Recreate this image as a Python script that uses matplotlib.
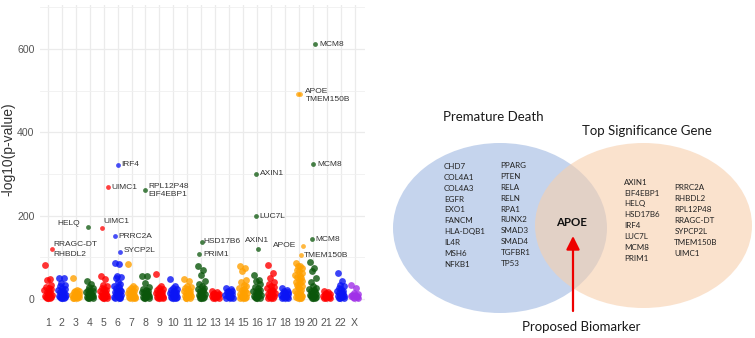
import matplotlib
matplotlib.use("Agg")
import matplotlib.pyplot as plt
from matplotlib.patches import Ellipse, FancyArrowPatch
import numpy as np

W, H, DPI = 755, 338, 100

# ---------------- data: Manhattan plot ----------------
chrom_labels = ["1", "2", "3", "4", "5", "6", "7", "8", "9", "10", "11", "12",
                "13", "14", "15", "16", "17", "18", "19", "20", "21", "22", "X"]

chr1_vals = [81, 48, 45, 34, 28, 26, 23, 21, 18, 16, 14, 12, 10, 8, 6, 5, 4, 3, 2, 1]
chr2_vals = [50, 49, 38, 34, 30, 27, 24, 21, 18, 16, 14, 12, 10, 8, 6, 5, 4, 3, 2, 1]
chr3_vals = [51, 22, 20, 18, 16, 14, 12, 10, 9, 8, 6, 5, 4, 3, 2, 1]
chr4_vals = [44, 36, 28, 25, 22, 20, 18, 16, 14, 12, 10, 8, 6, 5, 4, 3, 2, 1]
chr5_vals = [56, 48, 33, 30, 27, 24, 21, 18, 16, 14, 12, 10, 8, 6, 5, 4, 3, 2, 1]
chr6_vals = [85, 84, 55, 53, 49, 40, 35, 32, 28, 25, 22, 20, 18, 16, 14, 12, 10, 8, 6, 5, 4, 3, 2, 1]
chr7_vals = [83, 30, 27, 25, 22, 20, 18, 15, 13, 11, 9, 7, 5, 4, 3, 2, 1]
chr8_vals = [56, 55, 39, 29, 24, 22, 19, 17, 15, 13, 11, 9, 7, 5, 4, 3, 2, 1]
chr9_vals = [59, 31, 26, 24, 21, 19, 17, 15, 13, 11, 9, 7, 5, 4, 3, 2, 1]
chr10_vals = [48, 30, 26, 23, 21, 19, 17, 15, 13, 11, 9, 7, 5, 4, 3, 2, 1]
chr11_vals = [47, 44, 32, 29, 26, 23, 20, 18, 16, 14, 12, 10, 8, 6, 4, 3, 2, 1]
chr12_vals = [78, 70, 58, 42, 36, 30, 27, 24, 21, 18, 16, 14, 12, 10, 8, 6, 4, 3, 2, 1]
chr13_vals = [18, 16, 14, 12, 11, 10, 9, 8, 6, 5, 4, 3, 2, 1]
chr14_vals = [27, 24, 20, 18, 16, 14, 12, 10, 8, 6, 5, 4, 3, 2, 1]
chr15_vals = [78, 74, 66, 46, 40, 33, 30, 27, 24, 21, 18, 15, 13, 11, 9, 7, 5, 4, 3, 2, 1]
chr16_vals = [58, 46, 42, 35, 28, 25, 22, 20, 18, 16, 14, 12, 10, 8, 6, 4, 3, 2, 1]
chr17_vals = [82, 63, 50, 40, 35, 31, 28, 25, 22, 20, 18, 16, 14, 12, 10, 8, 6, 4, 3, 2, 1]
chr18_vals = [26, 21, 19, 17, 15, 13, 11, 9, 7, 5, 4, 3, 2, 1]
chr19_vals = [86, 80, 78, 74, 70, 66, 62, 58, 55, 52, 49, 46, 43, 40, 37, 34, 31, 28,
              25, 22, 19, 16, 13, 10, 8, 6, 4, 3, 2, 1]
chr20_vals = [89, 74, 66, 49, 40, 30, 27, 24, 21, 18, 16, 14, 12, 10, 8, 6, 4, 3, 2, 1]
chr21_vals = [18, 16, 14, 12, 11, 10, 8, 7, 6, 5, 4, 3, 2, 1]
chr22_vals = [62, 42, 34, 30, 26, 23, 20, 18, 16, 14, 12, 10, 8, 6, 4, 3, 2, 1]
chrX_vals = [34, 26, 14, 12, 10, 9, 8, 7, 6, 5, 4, 3, 2]

chrom_values = [chr1_vals, chr2_vals, chr3_vals, chr4_vals, chr5_vals, chr6_vals,
                chr7_vals, chr8_vals, chr9_vals, chr10_vals, chr11_vals, chr12_vals,
                chr13_vals, chr14_vals, chr15_vals, chr16_vals, chr17_vals, chr18_vals,
                chr19_vals, chr20_vals, chr21_vals, chr22_vals, chrX_vals]

# labelled top hits
hit_labels = ["IRF4", "UIMC1", "RPL12P48\nEIF4EBP1", "HELQ", "UIMC1", "PRRC2A", "SYCP2L",
              "RRAGC-DT\nRHBDL2", "MCM8", "APOE\nTMEM150B", "", "MCM8", "AXIN1", "LUC7L",
              "HSD17B6", "PRIM1", "AXIN1", "MCM8", "APOE", "TMEM150B"]
hit_chrom = [6, 5, 8, 4, 5, 6, 6, 1, 20, 19, 19, 20, 16, 16, 12, 12, 16, 20, 19, 19]
hit_pos = [0.0, 0.28, 0.0, -0.11, -0.11, -0.2, 0.14, 0.27, 0.14, -0.05, 0.1, 0.05,
           -0.09, -0.04, 0.02, -0.17, 0.08, -0.05, 0.3, 0.18]
hit_vals = [322, 268, 261, 172, 171, 150, 112, 119, 612, 492, 491, 323, 300, 199,
            137, 107, 119, 143, 127, 105]

# ---------------- data: Venn diagram ----------------
set_a_title = "Premature Death"
set_b_title = "Top Significance Gene"
set_a_col1 = ["CHD7", "COL4A1", "COL4A3", "EGFR", "EXO1", "FANCM", "HLA-DQB1", "IL4R", "MSH6", "NFKB1"]
set_a_col2 = ["PPARG", "PTEN", "RELA", "RELN", "RPA1", "RUNX2", "SMAD3", "SMAD4", "TGFBR1", "TP53"]
set_b_col1 = ["AXIN1", "EIF4EBP1", "HELQ", "HSD17B6", "IRF4", "LUC7L", "MCM8", "PRIM1"]
set_b_col2 = ["PRRC2A", "RHBDL2", "RPL12P48", "RRAGC-DT", "SYPCP2L", "TMEM150B", "UIMC1"]
shared_gene = "APOE"
arrow_text = "Proposed Biomarker"

# ---------------- styles / layout ----------------
palette = ["#ff0000", "#0a14f5", "#ffa000", "#0a560a"]
x_color = "#a030e8"
OFFS = [-0.22, 0.12, -0.05, 0.24, -0.15, 0.04, 0.2, -0.26, 0.09, -0.1, 0.16, -0.02,
        0.26, -0.19, 0.07, -0.12, 0.22, -0.07, 0.0, 0.14, -0.24, 0.11, -0.16, 0.19,
        -0.03, 0.25, -0.21, 0.06, -0.09, 0.17]
# label offsets in pixels (dx, dy up) and alignment
lab_dx = [3.3, 3.3, 3.3, -8.3, 1.7, 4, 3.6, 1.6, 5, 7.3, 0, 4, 4, 3.3, 2.3, 4.3, -1.3, 3.7, -6.6, 2.6]
lab_dy = [0, 0, 0, 4, 6, 0, 1.6, 0, 0, -1, 0, 0, 0, 0, 0, 0, 9.3, 0, 0, 0]
lab_ha = ["left", "left", "left", "right", "left", "left", "left", "left", "left", "left",
          "left", "left", "left", "left", "left", "left", "center", "left", "right", "left"]
lab_ls = [1.25, 1, 1.25, 1, 1, 1, 1, 1.5, 1, 1.2, 1, 1, 1, 1, 1, 1, 1, 1, 1, 1]


def color_for(i):
    return x_color if chrom_labels[i] == "X" else palette[i % 4]


LEFT_FONT = ["Liberation Sans", "DejaVu Sans"]
VENN_FONT = ["Lato", "DejaVu Sans"]

fig = plt.figure(figsize=(W / DPI, H / DPI), dpi=DPI)
fig.patch.set_facecolor("white")

ax = fig.add_axes([40 / W, 1 - 303 / H, 325 / W, 298 / H])
ax.set_facecolor("white")
positions = np.arange(1, len(chrom_labels) + 1)

for i, vals in enumerate(chrom_values):
    xs = [positions[i] + OFFS[j % len(OFFS)] for j in range(len(vals))]
    ax.scatter(xs, vals, s=24, color=color_for(i), alpha=0.8, linewidths=0, zorder=3)

for k, lbl in enumerate(hit_labels):
    ci = hit_chrom[k] - 1
    x = positions[ci] + hit_pos[k]
    y = hit_vals[k]
    ax.scatter([x], [y], s=12, color=color_for(ci), alpha=0.75, linewidths=0, zorder=4)
    if lbl:
        ax.annotate(lbl, (x, y), xytext=(lab_dx[k] * 0.72, lab_dy[k] * 0.72),
                    textcoords="offset points", ha=lab_ha[k], va="center",
                    fontsize=6, color="#333333", family=LEFT_FONT,
                    linespacing=lab_ls[k], zorder=5)

ax.set_xlim(0.43, 23.75)
ax.set_ylim(-10, 706)
ax.set_xticks(positions)
ax.set_xticklabels(chrom_labels)
ax.set_yticks([0, 200, 400, 600])
ax.set_yticks([100, 300, 500, 700], minor=True)
ax.grid(True, which="major", color="#ebebeb", linewidth=0.9, zorder=0)
ax.grid(True, which="minor", axis="y", color="#f0f0f0", linewidth=0.6, zorder=0)
ax.set_axisbelow(True)
for sp in ax.spines.values():
    sp.set_visible(False)
ax.tick_params(axis="both", which="both", length=0, labelsize=7.6, labelcolor="#555555")
ax.tick_params(axis="x", pad=11)
ax.tick_params(axis="y", pad=4)
for t in ax.get_xticklabels() + ax.get_yticklabels():
    t.set_family(LEFT_FONT)

fig.text(8.5 / W, 1 - 149 / H, "-log10(p-value)", rotation=90, ha="center", va="center",
         fontsize=10, color="#333333", family=LEFT_FONT)

# ---------------- Venn ----------------
ax2 = fig.add_axes([380 / W, 0, 375 / W, 1])
ax2.set_xlim(380, 755)
ax2.set_ylim(H, 0)
ax2.axis("off")

ax2.add_patch(Ellipse((500, 228), 214, 170, facecolor="#c5d4ed", edgecolor="none", zorder=1))
ax2.add_patch(Ellipse((643.5, 225.5), 217, 165, facecolor="#f7cfad", edgecolor="none",
                      alpha=0.6, zorder=2))

ax2.text(493, 117, set_a_title, ha="center", va="center", fontsize=9.5, color="#1a1a1a",
         family=VENN_FONT, zorder=5)
ax2.text(647, 131, set_b_title, ha="center", va="center", fontsize=9.5, color="#1a1a1a",
         family=VENN_FONT, zorder=5)

fs_small = 5.8
cap_off = 0.36 * fs_small / 0.72  # half cap height in px


def gene_column(names, x, y0, step=10.9):
    for j, g in enumerate(names):
        ax2.text(x, y0 + j * step + cap_off, g, ha="left", va="baseline", fontsize=fs_small,
                 color="#222222", family=VENN_FONT, zorder=5)


gene_column(set_a_col1, 444, 166)
gene_column(set_a_col2, 500.7, 165)
gene_column(set_b_col1, 624, 181.7)
gene_column(set_b_col2, 674.3, 187.3)

ax2.text(571.7, 222, shared_gene, ha="center", va="center", fontsize=8.3, fontweight="bold",
         color="#111111", family=VENN_FONT, zorder=6)

ax2.add_patch(FancyArrowPatch((573, 311), (573, 236), arrowstyle="-|>,head_length=5,head_width=2.5",
                              color="#ee0000", linewidth=1.6, mutation_scale=1.6, zorder=6,
                              shrinkA=0, shrinkB=0))

ax2.text(581, 327, arrow_text, ha="center", va="center", fontsize=9.5, color="#1a1a1a",
         family=VENN_FONT, zorder=5)

fig.savefig("out.png", dpi=DPI)
